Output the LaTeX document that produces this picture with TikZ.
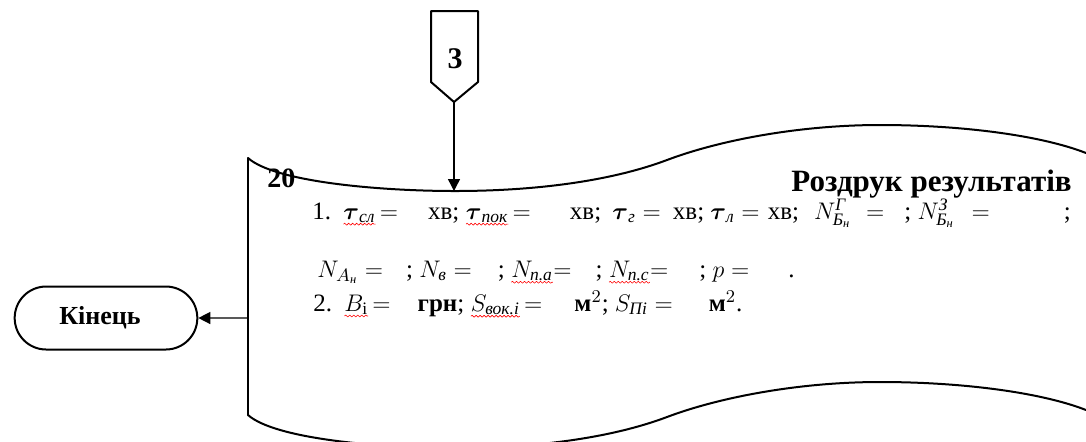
\documentclass[tikz,border=0pt]{standalone}
\usepackage{amsmath}
\usepackage{fontspec}
\setmainfont{Liberation Serif}
\usetikzlibrary{arrows.meta,shapes.misc,decorations.pathmorphing}

\tikzset{
  flowline/.style={line width=1pt},
  arr/.style={line width=0.7pt,-{Triangle[length=6pt,width=6pt]}},
  terminal/.style={rounded rectangle,draw,line width=1pt,minimum width=98pt,
    minimum height=31.5pt,font=\bfseries\fontsize{13}{15}\selectfont},
  txt/.style={anchor=base west,inner sep=0pt,font=\fontsize{12.5}{15}\selectfont},
  spellwave/.style={red,line width=0.3pt,decorate,
    decoration={snake,amplitude=0.5pt,segment length=2pt}},
  tapewave/.pic={
    \draw[flowline] (0,0) .. controls (27,24) and (132,33) .. (207,33)
      .. controls (292,33) and (366,22) .. (419,2)
      .. controls (472,-18) and (552,-33) .. (632,-33)
      .. controls (712,-33) and (792,-23) .. (838,-5);
  }
}

\newcommand{\blank}[1]{\hspace{#1pt}}
\newcommand{\cyi}[1]{\text{\itshape #1}}
\newcommand{\spell}[1]{\tikz[baseline=(w.base)]{%
  \node[inner sep=0pt,outer sep=0pt,draw=none,anchor=base] (w) {#1};
  \draw[spellwave] ([yshift=-0.7pt]w.south west) -- ([yshift=-0.7pt]w.south east);}}

\begin{document}
\begin{tikzpicture}[x=0.5pt,y=-0.5pt,line cap=round,line join=round]
\clip (0,0) rectangle (1086,441);
% off-page connector
\draw[flowline] (431,11) -- (478,11) -- (478,82) -- (454,102) -- (431,82) -- cycle;
\node[font=\bfseries\fontsize{15}{18}\selectfont] (conn) at (455,59) {3};
\coordinate (conntip) at (454,102);
\coordinate (tapein) at (454,191);
% punched tape
\draw[flowline] (248,158) -- (248,415);
\pic at (248,158) {tapewave};
\pic at (248,415) {tapewave};
\draw[arr] (conntip) -- (tapein);
% end
\node[terminal] (end) at (106,318) {\hspace{-6pt}Кінець};
\coordinate (tapeleft) at (248,318);
\draw[arr] (tapeleft) -- (end);
% texts
\node[anchor=base west,inner sep=0pt,font=\bfseries\fontsize{14}{16}\selectfont]
  (num) at (267,187) {20};
\node[anchor=base east,inner sep=0pt,font=\bfseries\fontsize{15.5}{18}\selectfont]
  (title) at (1072,191) {Роздрук результатів};
\node[txt] (line1) at (312,219) {1.\blank{6}\spell{$\boldsymbol\tau_{\cyi{сл}}$}$\,=$\blank{15}хв;
  \spell{$\boldsymbol\tau_{\cyi{пок}}$}$\,=$\blank{19.5}хв;\blank{2.5} $\boldsymbol\tau_{\cyi{г}}=$\blank{6}хв;
  $\boldsymbol\tau_{\cyi{л}}=$\blank{4}хв;\blank{7.5}$N^{\cyi{Г}}_{\cyi{Б}_{\cyi{н}}}\hspace{4pt}=$\blank{10};
  $N^{\cyi{З}}_{\cyi{Б}_{\cyi{н}}}\hspace{5pt}=$\blank{37};};
\node[txt] (line2) at (317,277) {$N_{A_{\cyi{н}}}=$\blank{11.5}; $N_{\cyi{в}}=$\blank{13};
  \spell{$N_{\cyi{п.а}}$}$=$\blank{12}; \spell{$N_{\cyi{п.с}}$}$=$\blank{15.5}; $p=$\blank{19.5}.};
\node[txt] (line3) at (313,311) {2.\blank{6}\spell{$B_{\text{i}}$}$\,=$\blank{13.5}\textbf{грн};
  \spell{$S_{\cyi{вок.i}}$}$\,=$\blank{16}\textbf{м}$^2$; $S_{\cyi{Пi}}=$\blank{18}\textbf{м}$^2$.};
\end{tikzpicture}
\end{document}
